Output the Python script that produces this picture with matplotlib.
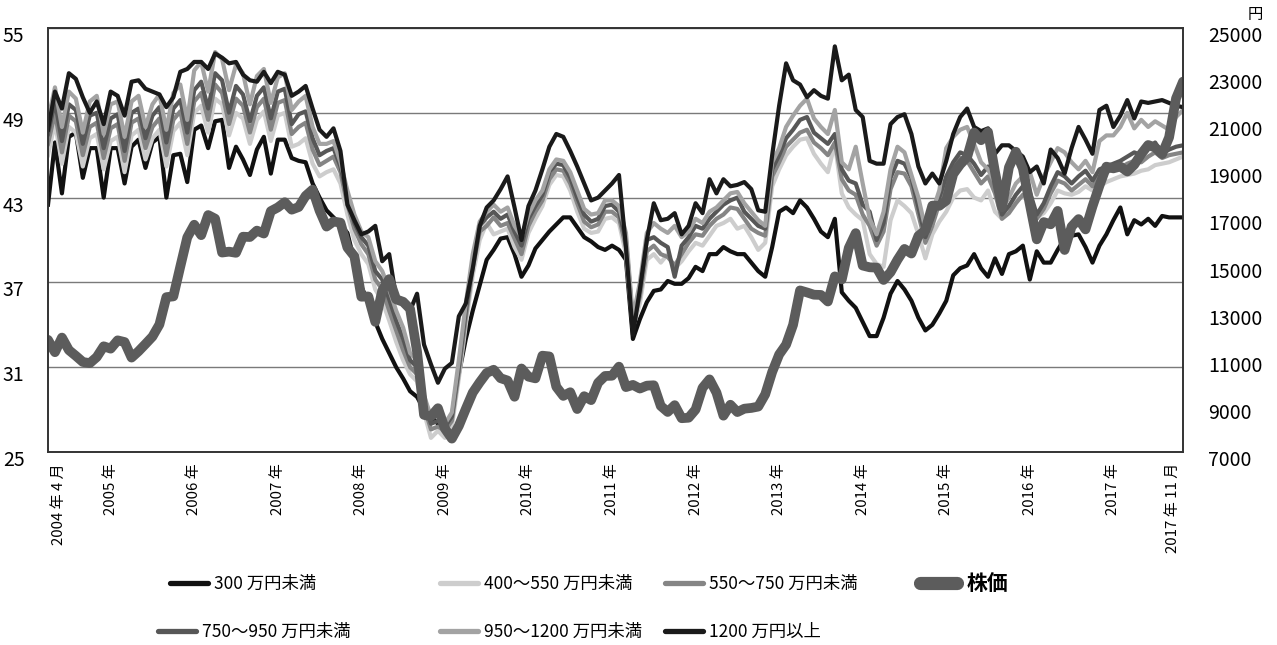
import matplotlib
matplotlib.use("Agg")
import matplotlib.pyplot as plt
from matplotlib.lines import Line2D
from matplotlib.transforms import ScaledTranslation
import numpy as np

plt.rcParams["font.family"] = ["Noto Sans CJK JP", "DejaVu Sans"]

# monthly, 2004-04 .. 2017-11 (164 points); one row per calendar year
LOW_300 = [
    42.5, 46.9, 43.3, 47.3, 47.6, 44.4, 46.5, 46.5, 43.0,
    46.5, 46.5, 44.0, 46.6, 47.1, 45.1, 46.9, 47.3, 43.0, 46.0, 46.1, 44.1,
    47.8, 48.1, 46.5, 48.4, 48.5, 45.1, 46.6, 45.7, 44.6, 46.4, 47.3, 44.7,
    47.1, 47.1, 45.8, 45.6, 45.5, 44.0, 43.0, 42.1, 41.6, 41.1, 40.5, 38.5,
    36.7, 35.6, 34.2, 33.0, 32.0, 31.0, 30.2, 29.3, 28.9, 28.0, 27.5, 27.0,
    27.0, 27.3, 30.5, 33.0, 35.0, 36.8, 38.6, 39.3, 40.1, 40.2, 39.0, 37.4,
    38.2, 39.4, 40.0, 40.6, 41.1, 41.6, 41.6, 40.9, 40.2, 39.9, 39.5, 39.3,
    39.6, 39.3, 38.6, 33.0, 34.4, 35.6, 36.4, 36.5, 37.1, 36.9, 36.9, 37.3,
    38.1, 37.8, 39.0, 39.0, 39.5, 39.2, 39.0, 39.0, 38.4, 37.8, 37.4, 39.5,
    42.0, 42.3, 41.9, 42.8, 42.3, 41.5, 40.6, 40.2, 41.5, 36.3, 35.7, 35.2,
    34.2, 33.2, 33.2, 34.5, 36.2, 37.1, 36.5, 35.7, 34.5, 33.6, 34.0, 34.8,
    35.7, 37.5, 38.0, 38.2, 39.0, 38.0, 37.4, 38.7, 37.6, 39.0, 39.2, 39.6,
    37.2, 39.2, 38.4, 38.4, 39.3, 40.1, 40.3, 40.4, 39.5, 38.4, 39.6, 40.4,
    41.4, 42.3, 40.4, 41.4, 41.1, 41.5, 41.0, 41.7, 41.6, 41.6, 41.6,
]
G_400_550 = [
    46.0, 48.3, 45.4, 48.0, 47.6, 45.2, 47.2, 47.5, 45.0,
    47.0, 47.3, 44.8, 47.4, 47.8, 45.7, 47.2, 47.8, 45.2, 47.7, 48.3, 46.0,
    49.0, 49.5, 47.6, 50.0, 49.6, 47.4, 49.0, 48.6, 46.8, 48.5, 49.1, 47.0,
    48.8, 49.0, 46.6, 46.8, 47.2, 45.4, 44.5, 44.8, 45.0, 44.0, 41.8, 40.0,
    39.0, 38.3, 36.5, 35.7, 34.3, 32.8, 31.5, 30.5, 30.0, 27.8, 26.0, 26.5,
    26.0, 26.8, 30.2, 34.0, 37.5, 40.0, 41.2, 40.4, 40.6, 40.8, 39.5, 38.6,
    40.5, 41.5, 42.4, 43.9, 44.6, 44.5, 43.5, 42.0, 40.8, 40.5, 40.6, 41.5,
    41.6, 41.2, 39.0, 33.8, 35.5, 38.6, 39.0, 38.4, 39.0, 38.0, 38.5, 39.2,
    39.8, 39.6, 40.3, 41.0, 41.2, 41.5, 40.8, 41.0, 40.2, 39.3, 39.8, 43.8,
    45.0, 46.0, 46.6, 47.1, 47.2, 46.1, 45.4, 44.8, 46.8, 43.3, 42.3, 41.8,
    41.4, 39.0, 38.3, 38.1, 41.4, 42.8, 42.4, 41.9, 40.4, 38.7, 40.4, 41.3,
    42.0, 43.0, 43.5, 43.6, 43.0, 42.8, 43.5, 42.0, 41.5, 42.2, 42.8, 43.1,
    42.7, 41.6, 41.9, 42.6, 43.5, 43.3, 43.2, 43.4, 43.8, 43.5, 43.8, 44.1,
    44.3, 44.5, 44.6, 44.7, 44.9, 45.0, 45.3, 45.4, 45.5, 45.7, 45.9,
]
G_550_750 = [
    46.8, 49.0, 46.2, 48.8, 48.4, 46.0, 48.0, 48.3, 45.8,
    47.9, 48.2, 45.6, 48.3, 48.6, 46.5, 48.0, 48.6, 46.0, 48.5, 49.1, 46.8,
    49.8, 50.4, 48.5, 51.0, 50.4, 48.2, 50.0, 49.5, 47.6, 49.4, 50.0, 47.8,
    49.7, 49.9, 47.5, 48.0, 48.3, 46.4, 45.3, 45.6, 45.9, 44.8, 42.5, 40.8,
    39.7, 39.0, 37.2, 36.5, 35.0, 33.6, 32.2, 31.0, 30.5, 28.2, 26.6, 26.8,
    26.5, 27.2, 30.6, 34.5, 38.0, 40.6, 41.0, 41.6, 41.0, 41.2, 40.1, 39.0,
    41.0, 42.0, 42.8, 44.3, 45.0, 44.9, 44.0, 42.6, 41.3, 40.9, 41.1, 42.0,
    42.0, 41.6, 39.5, 34.0, 36.0, 39.2, 39.6, 39.0, 38.8, 38.2, 39.0, 39.8,
    40.4, 40.3, 41.0, 41.5, 41.8, 42.3, 42.2, 41.5, 40.8, 40.5, 40.3, 44.5,
    45.5, 46.6, 47.1, 47.6, 47.8, 46.9, 46.5, 46.0, 46.9, 44.3, 43.5, 43.2,
    41.8, 41.0, 39.6, 40.6, 43.6, 44.8, 44.7, 43.8, 41.8, 39.8, 41.0, 42.6,
    44.0, 45.0, 45.8, 45.6, 44.8, 44.0, 44.5, 43.3, 41.5, 41.9, 42.6, 43.2,
    42.9, 41.5, 42.2, 43.3, 44.2, 44.0, 43.5, 43.9, 44.3, 43.8, 44.5, 44.8,
    45.0, 45.1, 45.4, 45.6, 45.5, 45.9, 46.2, 45.8, 46.0, 46.1, 46.2,
]
G_750_950 = [
    47.5, 49.8, 47.0, 49.6, 49.2, 46.8, 48.8, 49.0, 46.5,
    48.6, 48.9, 46.3, 49.0, 49.3, 47.2, 48.8, 49.4, 46.9, 49.3, 49.9, 47.6,
    50.6, 51.2, 49.3, 51.8, 51.3, 49.0, 50.9, 50.3, 48.4, 50.2, 50.8, 48.6,
    50.5, 50.7, 48.2, 48.9, 49.1, 47.2, 46.0, 46.3, 46.5, 45.2, 43.0, 41.2,
    40.2, 39.6, 37.8, 37.2, 35.8, 34.3, 33.0, 31.5, 31.0, 28.5, 27.0, 27.2,
    26.8, 27.5, 31.0, 35.0, 38.5, 41.0, 41.6, 42.0, 41.5, 41.8, 40.6, 39.6,
    41.5, 42.4, 43.2, 44.8, 45.4, 45.3, 44.4, 43.0, 41.8, 41.3, 41.5, 42.4,
    42.5, 42.0, 40.0, 34.2, 36.5, 40.0, 40.2, 39.8, 39.5, 37.4, 39.6, 40.2,
    41.0, 40.8, 41.5, 42.0, 42.5, 42.8, 43.0, 42.0, 41.5, 41.0, 40.8, 45.0,
    46.0, 47.2, 47.8, 48.5, 48.7, 47.6, 47.2, 46.8, 47.5, 45.0, 44.2, 44.0,
    42.5, 42.0, 40.0, 41.2, 44.4, 45.6, 45.4, 44.4, 42.3, 40.2, 41.5, 43.0,
    44.5, 45.5, 46.2, 46.0, 45.4, 44.6, 45.2, 44.0, 41.8, 42.4, 43.2, 43.8,
    43.4, 41.8, 42.6, 43.8, 44.8, 44.5, 44.0, 44.5, 44.9, 44.2, 45.0, 45.2,
    45.4, 45.6, 45.9, 46.2, 46.0, 46.5, 46.9, 46.1, 46.4, 46.6, 46.7,
]
G_950_1200 = [
    48.5, 50.8, 48.0, 50.5, 50.0, 47.6, 49.8, 50.2, 47.5,
    49.6, 49.8, 47.3, 49.8, 50.2, 48.0, 49.6, 50.3, 47.8, 50.4, 51.0, 48.5,
    52.0, 52.6, 50.5, 53.3, 52.8, 50.6, 52.4, 51.8, 49.6, 51.6, 52.1, 49.7,
    51.5, 51.8, 49.2, 49.8, 50.2, 48.0, 46.8, 46.8, 47.0, 45.5, 43.5, 41.8,
    40.6, 40.2, 38.5, 37.8, 36.5, 35.0, 33.8, 32.0, 31.5, 29.0, 27.5, 27.8,
    27.0, 27.8, 31.5, 35.5, 39.0, 41.3, 42.0, 42.5, 42.0, 42.3, 41.0, 40.2,
    41.8, 42.8, 43.5, 45.0, 45.7, 45.6, 44.8, 43.5, 42.2, 41.8, 41.9, 42.8,
    42.8, 42.4, 40.5, 34.5, 37.0, 40.5, 41.2, 40.8, 40.5, 41.0, 40.2, 40.6,
    41.5, 41.2, 42.0, 42.3, 42.8, 43.3, 43.4, 42.6, 42.0, 41.4, 41.0, 45.5,
    46.5, 48.0, 48.8, 49.5, 50.0, 48.6, 48.0, 47.5, 49.2, 45.5, 45.0, 46.6,
    44.0, 41.5, 40.4, 42.0, 45.0, 46.6, 46.2, 44.6, 43.0, 40.8, 42.0, 43.5,
    46.5, 47.3, 47.8, 48.0, 46.8, 45.5, 45.0, 44.0, 42.2, 43.0, 44.0, 44.5,
    44.8, 43.2, 44.5, 45.5, 46.5, 46.2, 45.5, 45.0, 45.6, 44.8, 47.0, 47.4,
    47.4, 48.0, 49.0, 47.9, 48.5, 48.0, 48.4, 48.1, 47.8, 48.7, 49.2,
]
HIGH_1200 = [
    47.8, 50.5, 49.3, 51.8, 51.4, 50.1, 49.0, 49.8, 48.2,
    50.5, 50.2, 48.8, 51.2, 51.3, 50.7, 50.5, 50.3, 49.4, 50.1, 51.9, 52.1,
    52.6, 52.6, 52.1, 53.2, 52.9, 52.5, 52.6, 51.7, 51.3, 51.2, 51.9, 51.1,
    51.9, 51.7, 50.2, 50.5, 50.9, 49.3, 47.8, 47.3, 47.9, 46.3, 42.5, 41.4,
    40.4, 40.6, 41.0, 38.5, 39.0, 35.9, 35.4, 35.0, 36.2, 32.6, 31.2, 29.9,
    30.9, 31.3, 34.6, 35.5, 38.0, 41.0, 42.3, 42.8, 43.6, 44.5, 42.3, 40.0,
    42.4, 43.5, 45.0, 46.6, 47.5, 47.3, 46.3, 45.2, 44.0, 42.8, 43.0, 43.5,
    44.0, 44.6, 39.5, 33.3, 36.5, 40.0, 42.6, 41.4, 41.5, 41.9, 40.4, 41.0,
    42.6, 41.9, 44.3, 43.3, 44.3, 43.8, 43.9, 44.1, 43.6, 42.1, 42.0, 46.0,
    49.5, 52.5, 51.3, 51.0, 50.1, 50.6, 50.2, 50.0, 53.7, 51.3, 51.7, 49.2,
    48.7, 45.6, 45.4, 45.4, 48.2, 48.7, 48.9, 47.5, 45.2, 44.0, 44.7, 44.0,
    45.6, 47.5, 48.7, 49.3, 48.0, 47.7, 47.9, 46.1, 46.7, 46.7, 46.3, 45.9,
    44.8, 45.2, 44.0, 46.4, 45.8, 44.7, 46.5, 48.0, 47.1, 46.1, 49.2, 49.5,
    48.0, 48.8, 49.9, 48.6, 49.8, 49.7, 49.8, 49.9, 49.7, 49.5, 49.4,
]
# 株価 (円, month-end)
STOCK = [
    11761, 11236, 11858, 11325, 11081, 10823, 10771, 11030, 11488,
    11387, 11740, 11668, 11008, 11276, 11584, 11899, 12413, 13574, 13606, 14872, 16111,
    16649, 16205, 17059, 16906, 15467, 15505, 15456, 16140, 16127, 16399, 16274, 17225,
    17383, 17604, 17287, 17400, 17875, 18138, 17248, 16569, 16785, 16737, 15680, 15307,
    13592, 13603, 12525, 13849, 14338, 13481, 13376, 13072, 11259, 8576, 8512, 8859,
    7994, 7568, 8109, 8828, 9522, 9958, 10356, 10492, 10133, 10034, 9345, 10546,
    10198, 10126, 11089, 11057, 9768, 9382, 9537, 8824, 9369, 9202, 9937, 10228,
    10237, 10624, 9755, 9849, 9693, 9816, 9833, 8955, 8700, 8988, 8434, 8455,
    8802, 9723, 10083, 9520, 8542, 9006, 8695, 8839, 8870, 8928, 9446, 10395,
    11138, 11559, 12397, 13860, 13774, 13677, 13668, 13389, 14456, 14327, 15662, 16291,
    14915, 14841, 14828, 14304, 14632, 15162, 15621, 15425, 16174, 16414, 17460, 17451,
    17674, 18798, 19207, 19520, 20563, 20236, 20585, 18890, 17388, 19083, 19747, 19034,
    17518, 16027, 16759, 16666, 17235, 15576, 16569, 16887, 16450, 17425, 18308, 19114,
    19041, 19119, 18909, 19197, 19651, 20033, 19925, 19646, 20356, 22012, 22724,
]

X_LABELS = ["2004 年 4 月", "2005 年", "2006 年", "2007 年", "2008 年", "2009 年",
            "2010 年", "2011 年", "2012 年", "2013 年", "2014 年", "2015 年",
            "2016 年", "2017 年", "2017 年 11 月"]
LEFT_TICKS = [25, 31, 37, 43, 49, 55]
RIGHT_TICKS = list(range(7000, 25001, 2000))

# label, values, colour
INCOME = [
    ("300 万円未満", LOW_300, "#111111"),
    ("400〜550 万円未満", G_400_550, "#cdcdcd"),
    ("550〜750 万円未満", G_550_750, "#858585"),
    ("750〜950 万円未満", G_750_950, "#575757"),
    ("950〜1200 万円未満", G_950_1200, "#a3a3a3"),
    ("1200 万円以上", HIGH_1200, "#1a1a1a"),
]
STOCK_LABEL = "株価"
STOCK_COLOR = "#5c5c5c"

W, H = 1277, 645
fig = plt.figure(figsize=(W / 100, H / 100), dpi=100)
ax = fig.add_axes([48 / W, 1 - 452 / H, (1183 - 48) / W, (452 - 28) / H])
ax2 = ax.twinx()

x = np.arange(len(STOCK))
handles = {}
for label, vals, color in INCOME:
    (h,) = ax.plot(x, vals, color=color, lw=3.0, solid_joinstyle="round")
    handles[label] = h
ax2.plot(x, STOCK, color=STOCK_COLOR, lw=7.0, solid_joinstyle="round",
         solid_capstyle="round")

ax.set_xlim(0, len(STOCK) - 1)
ax.set_ylim(25, 55)
ax.set_yticks(LEFT_TICKS)
ax2.set_ylim(7000, 25000)
ax2.set_yticks(RIGHT_TICKS)
ax.grid(axis="y", color="#7a7a7a", lw=1.0)
ax.set_axisbelow(True)

# ticks: January of each year, ends pulled slightly inward like the original
xt = [1.5] + [9 + 12 * k for k in range(13)] + [161.6]
ax.set_xticks(xt)
ax.set_xticklabels(X_LABELS, rotation=90, va="top", ha="center")
ax.tick_params(axis="x", length=0, labelsize=10.8, pad=8)
ax.tick_params(axis="y", length=0, labelsize=14, pad=17)
ax2.tick_params(axis="y", length=0, labelsize=14, pad=18)

shift = ScaledTranslation(0, -0.06, fig.dpi_scale_trans)
for lab in ax.get_yticklabels() + ax2.get_yticklabels():
    lab.set_transform(lab.get_transform() + shift)

for a in (ax, ax2):
    for sp in a.spines.values():
        sp.set_color("#333333")
        sp.set_linewidth(1.2)

fig.text(1255 / W, 1 - 14 / H, "円", ha="center", va="center", fontsize=11)

# legend, placed item by item as in the source layout
leg_items = [
    ("300 万円未満", 170, 584),
    ("400〜550 万円未満", 440, 584),
    ("550〜750 万円未満", 665, 584),
    ("750〜950 万円未満", 158, 632),
    ("950〜1200 万円未満", 440, 632),
    ("1200 万円以上", 665, 632),
]
for label, px, py in leg_items:
    h = Line2D([], [], color=handles[label].get_color(), lw=3.8,
               solid_capstyle="round")
    fig.legend([h], [label], loc="center left",
               bbox_to_anchor=(px / W, 1 - py / H), frameon=False,
               fontsize=12.5, handlelength=2.2, handletextpad=0.35,
               borderpad=0, borderaxespad=0)
hs = Line2D([], [], color=STOCK_COLOR, lw=9.5, solid_capstyle="round")
fig.legend([hs], [STOCK_LABEL], loc="center left",
           bbox_to_anchor=(920 / W, 1 - 584 / H), frameon=False,
           prop={"size": 15, "weight": "bold"}, handlelength=1.8,
           handletextpad=0.45, borderpad=0, borderaxespad=0)

fig.savefig("out.png", dpi=100)
